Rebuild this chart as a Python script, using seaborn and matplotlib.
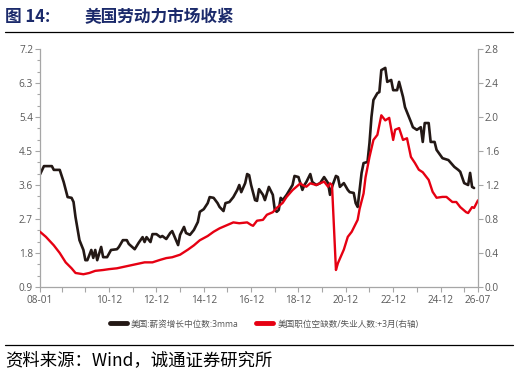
import pandas as pd
import matplotlib
matplotlib.use("Agg")
import matplotlib.pyplot as plt
from matplotlib.lines import Line2D
import seaborn as sns

# wage growth tracker (3mma), left axis
wage_dates = ['2008-01', '2008-03', '2008-07', '2008-08', '2008-11', '2009-01', '2009-03', '2009-05',
              '2009-06', '2009-07', '2009-09', '2009-11', '2009-12', '2010-01', '2010-03', '2010-04',
              '2010-05', '2010-06', '2010-08', '2010-09', '2010-11', '2011-01', '2011-04', '2011-05',
              '2011-07', '2011-09', '2011-10', '2012-01', '2012-03', '2012-05', '2012-06', '2012-07',
              '2012-09', '2012-10', '2012-12', '2013-02', '2013-03', '2013-05', '2013-07', '2013-08',
              '2013-11', '2013-12', '2014-02', '2014-03', '2014-05', '2014-07', '2014-09', '2014-10',
              '2014-12', '2015-02', '2015-03', '2015-05', '2015-07', '2015-08', '2015-10', '2015-11',
              '2016-01', '2016-03', '2016-05', '2016-06', '2016-07', '2016-09', '2016-10', '2016-11',
              '2016-12', '2017-02', '2017-03', '2017-04', '2017-06', '2017-07', '2017-09', '2017-11',
              '2017-12', '2018-01', '2018-02', '2018-03', '2018-04', '2018-06', '2018-09', '2018-10',
              '2018-12', '2019-02', '2019-03', '2019-04', '2019-06', '2019-07', '2019-09', '2019-11',
              '2020-01', '2020-03', '2020-04', '2020-05', '2020-07', '2020-08', '2020-09', '2020-11',
              '2021-01', '2021-02', '2021-04', '2021-05', '2021-06', '2021-07', '2021-08', '2021-09',
              '2021-11', '2021-12', '2022-01', '2022-02', '2022-04', '2022-05', '2022-06', '2022-08',
              '2022-09', '2022-11', '2022-12', '2023-02', '2023-03', '2023-05', '2023-06', '2023-08',
              '2023-09', '2023-10', '2023-12', '2024-02', '2024-03', '2024-04', '2024-06', '2024-07',
              '2024-09', '2024-10', '2025-01', '2025-04', '2025-07', '2025-09', '2025-10', '2025-12',
              '2026-02', '2026-03', '2026-04', '2026-05']
wage_vals = [3.88, 4.10, 4.10, 4.00, 4.00, 3.68, 3.28, 3.26,
             3.15, 2.75, 2.14, 1.88, 1.61, 1.61, 1.88, 1.67,
             1.88, 1.61, 1.96, 1.69, 1.69, 1.88, 1.90, 1.96,
             2.14, 2.14, 2.04, 1.90, 2.07, 2.22, 2.09, 2.22,
             2.09, 2.30, 2.30, 2.22, 2.25, 2.17, 2.33, 2.38,
             2.01, 2.28, 2.49, 2.33, 2.28, 2.41, 2.62, 2.89,
             2.96, 3.12, 3.28, 3.26, 3.12, 3.02, 2.91, 3.12,
             3.15, 3.28, 3.47, 3.60, 3.41, 3.65, 3.89, 3.86,
             3.60, 3.20, 3.18, 3.49, 3.34, 3.20, 3.55, 3.34,
             2.94, 2.89, 2.94, 3.26, 3.20, 3.34, 3.60, 3.84,
             3.81, 3.47, 3.60, 3.68, 3.89, 3.68, 3.60, 3.65,
             3.81, 3.65, 3.34, 3.55, 3.84, 3.81, 3.55, 3.65,
             3.47, 3.41, 3.39, 3.12, 3.02, 3.47, 3.92, 4.18,
             4.21, 4.71, 5.40, 5.85, 6.03, 6.06, 6.64, 6.70,
             6.33, 6.38, 6.11, 6.11, 6.33, 5.93, 5.66, 5.40,
             5.27, 5.13, 5.06, 5.13, 4.74, 5.24, 5.24, 4.74,
             4.74, 4.53, 4.31, 4.26, 4.08, 4.00, 3.95, 3.65,
             3.60, 3.92, 3.55, 3.52]

# job openings / unemployed, shifted +3 months, right axis
ratio_dates = ['2008-01', '2008-04', '2008-08', '2008-11', '2009-02', '2009-05', '2009-07', '2009-11',
               '2010-02', '2010-05', '2010-09', '2010-12', '2011-04', '2011-07', '2011-10', '2012-02',
               '2012-06', '2012-10', '2013-02', '2013-05', '2013-08', '2013-12', '2014-04', '2014-07',
               '2014-10', '2015-02', '2015-05', '2015-08', '2015-12', '2016-03', '2016-06', '2016-10',
               '2016-12', '2017-01', '2017-03', '2017-06', '2017-08', '2017-11', '2018-01', '2018-04',
               '2018-06', '2018-09', '2018-11', '2019-01', '2019-02', '2019-04', '2019-06', '2019-09',
               '2019-11', '2020-01', '2020-03', '2020-04', '2020-05', '2020-07', '2020-08', '2020-11',
               '2021-01', '2021-03', '2021-06', '2021-07', '2021-09', '2021-10', '2021-12', '2022-02',
               '2022-04', '2022-06', '2022-08', '2022-10', '2022-12', '2023-01', '2023-03', '2023-05',
               '2023-07', '2023-09', '2023-11', '2024-01', '2024-03', '2024-06', '2024-08', '2024-10',
               '2025-01', '2025-03', '2025-06', '2025-08', '2025-10', '2026-01', '2026-02', '2026-04',
               '2026-05', '2026-07']
ratio_vals = [0.65, 0.59, 0.49, 0.40, 0.29, 0.22, 0.165, 0.15,
              0.165, 0.19, 0.20, 0.21, 0.22, 0.235, 0.25, 0.27,
              0.29, 0.29, 0.32, 0.34, 0.35, 0.38, 0.44, 0.49,
              0.55, 0.60, 0.65, 0.69, 0.73, 0.76, 0.75, 0.76,
              0.73, 0.72, 0.78, 0.79, 0.85, 0.88, 0.93, 0.99,
              1.06, 1.14, 1.18, 1.22, 1.20, 1.18, 1.22, 1.20,
              1.22, 1.24, 1.18, 1.22, 1.20, 0.20, 0.28, 0.44,
              0.59, 0.65, 0.79, 0.92, 1.10, 1.29, 1.53, 1.73,
              1.79, 2.02, 1.96, 1.99, 1.73, 1.85, 1.87, 1.73,
              1.75, 1.53, 1.46, 1.38, 1.35, 1.26, 1.12, 1.05,
              1.06, 1.06, 1.00, 1.00, 0.94, 0.88, 0.87, 0.94,
              0.93, 1.02]

xtick_labels = ['08-01', '10-12', '12-12', '14-12', '16-12', '18-12', '20-12', '22-12', '24-12', '26-07']
wage_label = '美国:薪资增长中位数:3mma'
ratio_label = '美国职位空缺数/失业人数:+3月(右轴)'


def month_index(s):
    y, m = s.split('-')
    return (int(y) - 2008) * 12 + int(m) - 1


wage_df = pd.DataFrame({'m': [month_index(d) for d in wage_dates], 'v': wage_vals})
ratio_df = pd.DataFrame({'m': [month_index(d) for d in ratio_dates], 'v': ratio_vals})

sns.set_style('ticks')
plt.rcParams['font.family'] = ['Open Sans', 'Noto Sans CJK SC', 'DejaVu Sans']
grey = '#595959'
spine_c = '#a6a6a6'
black_c = '#231815'
red_c = '#e60012'

fig = plt.figure(figsize=(5.18, 3.76), dpi=100)
ax = fig.add_axes([40 / 518, 1 - 287 / 376, 438 / 518, 238 / 376])
ax2 = ax.twinx()

sns.lineplot(x='m', y='v', data=wage_df, ax=ax, color=black_c, lw=1.9)
sns.lineplot(x='m', y='v', data=ratio_df, ax=ax2, color=red_c, lw=1.7)

ax.set_xlim(0, 222)
ax.set_ylim(0.9, 7.2)
ax2.set_ylim(0, 2.8)

# x ticks: labels at these points, small ticks every December
major_m = [month_index('20' + t) for t in xtick_labels]
minor_m = [month_index('%d-12' % y) for y in range(2008, 2026)]
minor_m = [m for m in minor_m if m not in major_m]
ax.set_xticks(major_m)
ax.set_xticklabels(xtick_labels)
ax.set_xticks(minor_m, minor=True)

left_ticks = [0.9 + 0.9 * i for i in range(8)]
ax.set_yticks(left_ticks)
ax.set_yticklabels(['%.1f' % t for t in left_ticks])
ax.set_yticks([0.9 + 0.3 * i for i in range(22)], minor=True)
right_ticks = [0.4 * i for i in range(8)]
ax2.set_yticks(right_ticks)
ax2.set_yticklabels(['%.1f' % t for t in right_ticks])

for a in (ax, ax2):
    a.set_xlabel('')
    a.set_ylabel('')
    a.spines['top'].set_visible(False)
    for s in a.spines.values():
        s.set_color(spine_c)
        s.set_linewidth(0.9)
    a.tick_params(which='both', colors=spine_c, labelcolor=grey, labelsize=7.2,
                  length=3.5, width=0.8, pad=1.5)
ax.tick_params(axis='y', which='minor', length=2.5)
ax.tick_params(axis='x', pad=2.5)
ax.spines['right'].set_visible(False)
ax2.spines['left'].set_visible(False)
ax2.spines['bottom'].set_visible(False)

handles = [Line2D([0], [0], color=black_c, lw=3.5),
           Line2D([0], [0], color=red_c, lw=3.5)]
fig.legend(handles, [wage_label, ratio_label], loc='center', bbox_to_anchor=(0.51, 1 - 324 / 376),
           ncol=2, frameon=False, fontsize=6.2, handlelength=2.0, handletextpad=0.5,
           columnspacing=2.0, labelcolor='#555555')

# header and footer
fig.text(5 / 518, 1 - 17 / 376, '图 14:', fontsize=12, fontweight='bold', color='#1b2a6b',
         va='center', family=['Noto Sans CJK SC'])
fig.text(85 / 518, 1 - 17 / 376, '美国劳动力市场收紧', fontsize=12, fontweight='bold',
         color='#1b2a6b', va='center', family=['Noto Sans CJK SC'])
fig.add_artist(Line2D([5 / 518, 513 / 518], [1 - 32 / 376, 1 - 32 / 376], color='black', lw=0.9))
fig.add_artist(Line2D([5 / 518, 513 / 518], [1 - 345 / 376, 1 - 345 / 376], color='black', lw=0.9))
fig.text(5 / 518, 1 - 360 / 376, '资料来源：Wind，诚通证券研究所', fontsize=12.5, color='black',
         va='center', family=['Noto Sans CJK SC'])

fig.savefig('out.png', dpi=100)
